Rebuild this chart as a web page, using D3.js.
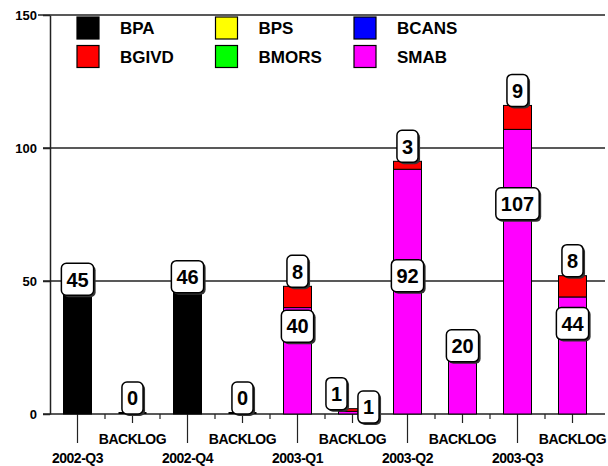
<!DOCTYPE html>
<html>
<head>
<meta charset="utf-8">
<script src="https://cdn.jsdelivr.net/npm/d3@7/dist/d3.min.js"></script>
<style>
  body { margin: 0; background: #fff; }
  svg text { font-family: "Liberation Sans", Arial, sans-serif; font-weight: bold; fill: #000; }
</style>
</head>
<body>
<div id="chart"></div>
<script>
// categories along the x axis (quarter, then its backlog)
const categories = ['2002-Q3', 'BACKLOG', '2002-Q4', 'BACKLOG', '2003-Q1', 'BACKLOG', '2003-Q2', 'BACKLOG', '2003-Q3', 'BACKLOG'];

// series values per category
const BPA   = [45, 0, 46, 0, 0, 0, 0, 0, 0, 0];
const BPS   = [0, 0, 0, 0, 0, 0, 0, 0, 0, 0];
const BCANS = [0, 0, 0, 0, 0, 0, 0, 0, 0, 0];
const BGIVD = [0, 0, 0, 0, 8, 1, 3, 0, 9, 8];
const BMORS = [0, 0, 0, 0, 0, 0, 0, 0, 0, 0];
const SMAB  = [0, 0, 0, 0, 40, 1, 92, 20, 107, 44];

// where the lower (SMAB) label sits when something is stacked on it, in chart units
const smabLabelAt = [null, null, null, null, 33, 2.6, 52, null, 79, 34];

const yTicks = [0, 50, 100, 150];

// legend order (two rows of three) and colours
const legendNames = ['BPA', 'BPS', 'BCANS', 'BGIVD', 'BMORS', 'SMAB'];
const legendColors = ['#000000', '#ffff00', '#0000ff', '#ff0000', '#00ff00', '#ff00ff'];
// stacking order, bottom to top
const stackOrder = ['BPA', 'BPS', 'BCANS', 'SMAB', 'BGIVD', 'BMORS'];

const W = 608, H = 466;
const plot = { left: 50, right: 600, top: 15, bottom: 414 };

const seriesData = { BPA, BPS, BCANS, BGIVD, BMORS, SMAB };
const color = d3.scaleOrdinal().domain(legendNames).range(legendColors);

// one row per category, keyed by index since BACKLOG repeats
const rows = categories.map(function (c, i) {
  const r = { idx: i, cat: c };
  stackOrder.forEach(function (k) { r[k] = seriesData[k][i]; });
  return r;
});

const x = d3.scaleBand()
  .domain(d3.range(categories.length))
  .range([plot.left, plot.right])
  .padding(0);

const y = d3.scaleLinear()
  .domain([0, 150])
  .range([plot.bottom, plot.top]);

const barW = 28;
const cx = function (i) { return x(i) + x.bandwidth() / 2; };

const svg = d3.select('#chart')
  .append('svg')
  .attr('width', W)
  .attr('height', H);

// gridlines (the 0 one doubles as the x baseline)
svg.append('g')
  .selectAll('line')
  .data(yTicks)
  .enter()
  .append('line')
  .attr('x1', function (d) { return d === 150 ? plot.left - 12 : plot.left - 7; })
  .attr('x2', W - 3)
  .attr('y1', function (d) { return y(d); })
  .attr('y2', function (d) { return y(d); })
  .attr('stroke', '#222')
  .attr('stroke-width', 1.5);

// y axis
const yAxis = svg.append('g')
  .attr('transform', 'translate(' + plot.left + ',0)')
  .call(d3.axisLeft(y).tickValues(yTicks).tickSize(7).tickSizeOuter(0).tickPadding(6));
yAxis.select('.domain').attr('stroke', '#222').attr('stroke-width', 1.5);
yAxis.selectAll('.tick line').attr('stroke', '#222').attr('stroke-width', 1.5);
yAxis.selectAll('.tick text')
  .attr('font-size', 13)
  .attr('font-family', '"Liberation Sans", Arial, sans-serif')
  .attr('font-weight', 'bold')
  .attr('fill', '#000');

// x ticks: long under quarters, medium under backlog, short between bars
const xt = svg.append('g');
xt.selectAll('line.cat')
  .data(rows)
  .enter()
  .append('line')
  .attr('x1', function (d) { return cx(d.idx); })
  .attr('x2', function (d) { return cx(d.idx); })
  .attr('y1', plot.bottom)
  .attr('y2', function (d) { return d.cat === 'BACKLOG' ? plot.bottom + 9 : plot.bottom + 29; })
  .attr('stroke', '#222')
  .attr('stroke-width', 1.2);
xt.selectAll('line.minor')
  .data(d3.range(1, categories.length))
  .enter()
  .append('line')
  .attr('x1', function (i) { return x(i); })
  .attr('x2', function (i) { return x(i); })
  .attr('y1', plot.bottom)
  .attr('y2', plot.bottom + 5)
  .attr('stroke', '#222')
  .attr('stroke-width', 1.2);
xt.selectAll('text')
  .data(rows)
  .enter()
  .append('text')
  .attr('x', function (d) { return cx(d.idx); })
  .attr('y', function (d) { return d.cat === 'BACKLOG' ? plot.bottom + 30 : plot.bottom + 49; })
  .attr('text-anchor', 'middle')
  .attr('font-size', 14)
  .attr('letter-spacing', -0.5)
  .text(function (d) { return d.cat; });

// stacked bars
const stacked = d3.stack().keys(stackOrder)(rows);
svg.append('g')
  .selectAll('g')
  .data(stacked)
  .enter()
  .append('g')
  .attr('fill', function (s) { return color(s.key); })
  .selectAll('rect')
  .data(function (s) { return s.filter(function (d) { return d[1] > d[0]; }); })
  .enter()
  .append('rect')
  .attr('x', function (d) { return cx(d.data.idx) - barW / 2; })
  .attr('width', barW)
  .attr('y', function (d) { return y(d[1]); })
  .attr('height', function (d) { return y(d[0]) - y(d[1]); })
  .attr('stroke', '#000')
  .attr('stroke-width', 1);

// empty columns still get a flat bar outline
const totals = rows.map(function (r) { return d3.sum(stackOrder, function (k) { return r[k]; }); });
svg.append('g')
  .selectAll('line')
  .data(rows.filter(function (r) { return totals[r.idx] === 0; }))
  .enter()
  .append('line')
  .attr('x1', function (d) { return cx(d.idx) - barW / 2; })
  .attr('x2', function (d) { return cx(d.idx) + barW / 2; })
  .attr('y1', plot.bottom - 1)
  .attr('y2', plot.bottom - 1)
  .attr('stroke', '#000')
  .attr('stroke-width', 2);

// value labels
const boxH = 32;
const labels = [];
rows.forEach(function (r) {
  const i = r.idx;
  const nz = stackOrder.filter(function (k) { return r[k] > 0; });
  if (nz.length === 0) {
    labels.push({ i: i, v: 0, cy: y(0) - boxH / 2, dx: 0 });
    return;
  }
  const topKey = nz[nz.length - 1];
  const top = { i: i, v: r[topKey], cy: y(totals[i]) - boxH / 2 + 1, dx: 0 };
  labels.push(top);
  if (nz.length > 1 && smabLabelAt[i] !== null) {
    const low = { i: i, v: r.SMAB, cy: y(smabLabelAt[i]), dx: 0 };
    // labels that would overlap get pushed sideways
    if (Math.abs(low.cy - top.cy) < boxH) {
      top.dx = -16;
      low.dx = 16;
    }
    labels.push(low);
  }
});

const lab = svg.append('g')
  .selectAll('g')
  .data(labels)
  .enter()
  .append('g')
  .attr('transform', function (d) { return 'translate(' + (cx(d.i) + d.dx) + ',' + d.cy + ')'; });

lab.append('rect').attr('class', 'shadow');
lab.append('rect').attr('class', 'box');
lab.append('text')
  .attr('text-anchor', 'middle')
  .attr('dy', '0.36em')
  .attr('font-size', 20)
  .text(function (d) { return d.v; });

lab.each(function () {
  const g = d3.select(this);
  const tw = g.select('text').node().getComputedTextLength();
  const bw = tw + 10;
  g.select('rect.shadow')
    .attr('x', -bw / 2 + 2).attr('y', -boxH / 2 + 2)
    .attr('width', bw).attr('height', boxH)
    .attr('rx', 5)
    .attr('fill', '#333');
  g.select('rect.box')
    .attr('x', -bw / 2).attr('y', -boxH / 2)
    .attr('width', bw).attr('height', boxH)
    .attr('rx', 5)
    .attr('fill', '#fff')
    .attr('stroke', '#000')
    .attr('stroke-width', 1.5);
});

// legend, 2 rows x 3 columns
const legend = svg.append('g');
const li = legend.selectAll('g')
  .data(legendNames)
  .enter()
  .append('g')
  .attr('transform', function (d, i) {
    return 'translate(' + (77 + (i % 3) * 138.5) + ',' + (17 + Math.floor(i / 3) * 28.5) + ')';
  });
li.append('rect')
  .attr('width', 22)
  .attr('height', 22)
  .attr('fill', function (d) { return color(d); })
  .attr('stroke', '#000')
  .attr('stroke-width', 1.2);
li.append('text')
  .attr('x', 43)
  .attr('y', 11)
  .attr('dy', '0.36em')
  .attr('font-size', 17)
  .text(function (d) { return d; });
</script>
</body>
</html>
